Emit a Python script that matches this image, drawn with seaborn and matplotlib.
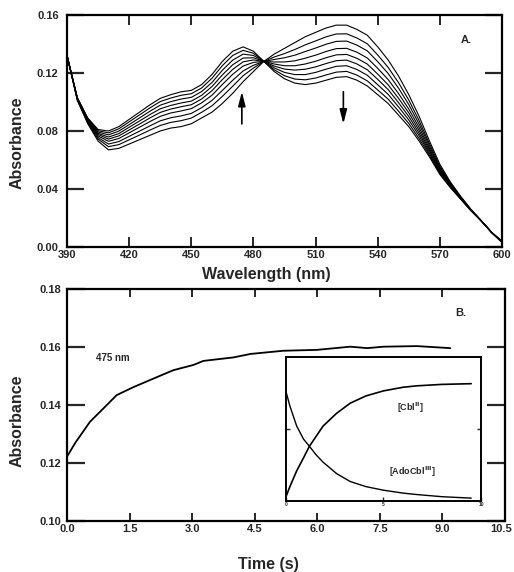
import matplotlib
matplotlib.use("Agg")
import matplotlib.pyplot as plt
import matplotlib.transforms as mtransforms
import pandas as pd
import seaborn as sns

# ---------------- data: panel A (spectra) ----------------
wavelength = list(range(390, 605, 5))
abs_0 = [.132, .101, .085, .073, .067, .068, .071, .074, .077, .080, .082, .083, .085, .089, .093, .099, .106, .114, .121, .128, .133, .137, .141, .145, .148, .151, .153, .153, .150, .146, .138, .129, .118, .105, .090, .073, .057, .045, .035, .026, .018, .010, .003]
abs_1 = [.132, .1013, .0857, .0744, .0692, .0706, .0739, .0772, .0806, .0838, .0859, .0871, .0889, .0929, .0974, .1039, .1109, .1181, .1234, .128, .1310, .1334, .1362, .1394, .1421, .1449, .1469, .1470, .1441, .1401, .1324, .1239, .1134, .1013, .0871, .0711, .0558, .0443, .0347, .0258, .018, .010, .0032]
abs_2 = [.132, .1016, .0862, .0755, .0710, .0727, .0763, .0799, .0835, .0870, .0891, .0904, .0921, .0961, .1011, .1080, .1150, .1214, .1253, .128, .1293, .1305, .1323, .1348, .1372, .1398, .1418, .1420, .1392, .1352, .1278, .1197, .1096, .0982, .0847, .0696, .0548, .0438, .0344, .0257, .018, .010, .0033]
abs_3 = [.132, .1019, .0868, .0766, .0729, .0748, .0787, .0826, .0865, .0901, .0924, .0938, .0954, .0994, .1047, .1121, .1191, .1248, .1273, .128, .1276, .1276, .1284, .1302, .1323, .1348, .1368, .1370, .1343, .1303, .1232, .1155, .1059, .0951, .0824, .0681, .0539, .0432, .0341, .0256, .018, .010, .0035]
abs_4 = [.132, .1021, .0873, .0776, .0744, .0766, .0807, .0848, .0890, .0928, .0951, .0967, .0981, .1021, .1078, .1155, .1225, .1277, .1290, .128, .1262, .1250, .1250, .1262, .1281, .1305, .1325, .1328, .1301, .1261, .1192, .1119, .1026, .0925, .0803, .0667, .0530, .0427, .0339, .0254, .018, .010, .0036]
abs_5 = [.132, .1024, .0877, .0784, .0758, .0782, .0826, .0869, .0913, .0953, .0976, .0993, .1006, .1046, .1107, .1187, .1257, .1303, .1305, .128, .1248, .1227, .1220, .1226, .1242, .1265, .1285, .1289, .1262, .1222, .1156, .1086, .0996, .0900, .0784, .0655, .0522, .0423, .0336, .0253, .018, .010, .0037]
abs_6 = [.132, .1026, .0882, .0793, .0773, .0799, .0844, .0890, .0936, .0978, .1002, .1020, .1032, .1072, .1135, .1219, .1289, .1330, .1321, .128, .1235, .1204, .1189, .1189, .1204, .1226, .1246, .1250, .1224, .1184, .1119, .1053, .0967, .0876, .0766, .0643, .0515, .0418, .0334, .0252, .018, .010, .0038]
abs_7 = [.132, .1028, .0886, .0802, .0787, .0815, .0863, .0911, .0959, .1003, .1027, .1046, .1057, .1097, .1164, .1251, .1321, .1356, .1336, .128, .1222, .1181, .1158, .1153, .1165, .1186, .1206, .1211, .1185, .1145, .1083, .1020, .0937, .0852, .0747, .0631, .0507, .0414, .0332, .0251, .018, .010, .0039]
abs_8 = [.132, .103, .089, .081, .080, .083, .088, .093, .098, .1025, .105, .107, .108, .112, .119, .128, .135, .138, .135, .128, .121, .116, .113, .112, .113, .115, .117, .1175, .115, .111, .105, .099, .091, .083, .073, .062, .050, .041, .033, .025, .018, .010, .004]

wl_ticks = [390, 420, 450, 480, 510, 540, 570, 600]
a_yticks = [0.00, 0.04, 0.08, 0.12, 0.16]

# ---------------- data: panel B (kinetics at 475 nm) ----------------
time_s = [0, 0.2, 0.55, 0.9, 1.19, 1.6, 1.99, 2.55, 3.03, 3.27, 3.99, 4.4, 5.19, 5.99, 6.79, 7.2, 7.59, 8.39, 9.19]
abs_475 = [0.1222, 0.127, 0.1342, 0.1392, 0.1434, 0.1462, 0.1486, 0.152, 0.1538, 0.1552, 0.1564, 0.1576, 0.1587, 0.159, 0.1601, 0.1596, 0.1601, 0.1603, 0.1596]
b_xticks = [0.0, 1.5, 3.0, 4.5, 6.0, 7.5, 9.0, 10.5]
b_yticks = [0.10, 0.12, 0.14, 0.16, 0.18]

# ---------------- data: inset (relative concentrations) ----------------
inset_t = [0, 0.2, 0.55, 0.9, 1.2, 1.55, 1.9, 2.6, 3.3, 4.1, 5.0, 6.0, 6.7, 8.0, 9.5]
inset_cbl = [0.03, 0.10, 0.21, 0.30, 0.38, 0.45, 0.52, 0.61, 0.68, 0.73, 0.765, 0.79, 0.80, 0.81, 0.815]
inset_ado = [0.76, 0.66, 0.52, 0.43, 0.38, 0.32, 0.27, 0.19, 0.135, 0.10, 0.075, 0.055, 0.045, 0.03, 0.02]
inset_xticks = [0, 5, 10]

# ---------------- style ----------------
sns.set_theme(style="ticks")
plt.rcParams["font.family"] = ["Liberation Sans", "DejaVu Sans"]
plt.rcParams["font.weight"] = "bold"
plt.rcParams["axes.labelweight"] = "bold"
plt.rcParams["mathtext.default"] = "bf"

fig = plt.figure(figsize=(5.14, 5.72), dpi=100)
axA = fig.add_axes([0.1304, 0.5682, 0.8463, 0.4056])
axB = fig.add_axes([0.1304, 0.0892, 0.8520, 0.4056])

spectra = [abs_0, abs_1, abs_2, abs_3, abs_4, abs_5, abs_6, abs_7, abs_8]
df = pd.concat(
    [pd.DataFrame({"wavelength": wavelength, "absorbance": s, "spectrum": i})
     for i, s in enumerate(spectra)],
    ignore_index=True,
)
sns.lineplot(data=df, x="wavelength", y="absorbance", units="spectrum",
             estimator=None, color="black", lw=0.8, ax=axA)

axA.annotate("", xy=(474.4, 0.109), xytext=(474.4, 0.083),
             arrowprops=dict(arrowstyle="-|>,head_length=0.7,head_width=0.18",
                             color="black", lw=1.2))
axA.annotate("", xy=(523.4, 0.083), xytext=(523.4, 0.109),
             arrowprops=dict(arrowstyle="-|>,head_length=0.7,head_width=0.18",
                             color="black", lw=1.2))
axA.text(580, 0.143, "A.", fontsize=8, fontweight="bold", ha="left", va="center")

axA.set_xlim(390, 600)
axA.set_ylim(0, 0.16)
axA.set_xticks(wl_ticks)
axA.set_xticklabels([str(v) for v in wl_ticks])
axA.set_yticks(a_yticks)
axA.set_yticklabels([f"{v:.2f}" for v in a_yticks])
axA.set_xlabel("Wavelength (nm)", fontsize=11.5, fontweight="bold")
axA.set_ylabel("Absorbance", fontsize=11.5, fontweight="bold")
axA.xaxis.set_label_coords(0.457, -0.085)
axA.yaxis.set_label_coords(-0.097, 0.45)
axA.tick_params(axis="x", direction="in", length=7, width=1.4, top=True,
                labelsize=8, pad=2)
axA.tick_params(axis="y", direction="in", length=12, width=1.6, right=True,
                labelsize=8, pad=6)

# panel B
sns.lineplot(x=time_s, y=abs_475, color="black", lw=1.3, ax=axB)
axB.text(0.7, 0.1562, "475 nm", fontsize=7, fontweight="bold", ha="left", va="center")
axB.text(9.3, 0.1717, "B.", fontsize=8, fontweight="bold", ha="left", va="center")
axB.set_xlim(0, 10.5)
axB.set_ylim(0.10, 0.18)
axB.set_xticks(b_xticks)
axB.set_xticklabels([f"{v:.1f}" for v in b_xticks])
axB.set_yticks(b_yticks)
axB.set_yticklabels([f"{v:.2f}" for v in b_yticks])
axB.set_xlabel("Time (s)", fontsize=11.5, fontweight="bold")
axB.set_ylabel("Absorbance", fontsize=11.5, fontweight="bold")
axB.xaxis.set_label_coords(0.461, -0.155)
axB.yaxis.set_label_coords(-0.097, 0.43)
axB.tick_params(axis="x", direction="in", length=6, width=1.4, top=True,
                labelsize=8, pad=2)
axB.tick_params(axis="y", direction="in", length=13, width=1.6, right=True,
                labelsize=8, pad=4)
# keep the last x tick label inside the figure
last_lbl = axB.get_xticklabels()[-1]
last_lbl.set_transform(last_lbl.get_transform() +
                       mtransforms.ScaledTranslation(-3 / 72, 0, fig.dpi_scale_trans))

for ax in (axA, axB):
    for sp in ax.spines.values():
        sp.set_visible(True)
        sp.set_linewidth(1.6)
        sp.set_color("black")

# inset
axI = fig.add_axes([0.5564, 0.1241, 0.3794, 0.2517])
axI.set_facecolor("white")
sns.lineplot(x=inset_t, y=inset_cbl, color="black", lw=1.2, ax=axI)
sns.lineplot(x=inset_t, y=inset_ado, color="black", lw=1.0, ax=axI)
axI.text(6.4, 0.65, r"[Cbl$^{\mathbf{II}}$]", fontsize=6.5, fontweight="bold",
         ha="center", va="center")
axI.text(6.5, 0.20, r"[AdoCbl$^{\mathbf{III}}$]", fontsize=6.5, fontweight="bold",
         ha="center", va="center")
axI.set_xlim(0, 10)
axI.set_ylim(0, 1.0)
axI.set_xticks(inset_xticks)
axI.set_xticklabels([str(v) for v in inset_xticks])
axI.set_yticks([0.5])
axI.set_yticklabels([])
axI.tick_params(axis="x", direction="in", length=3, width=1.0, labelsize=3.5, pad=1)
axI.tick_params(axis="y", direction="in", length=3, width=1.0, left=True, right=True)
for sp in axI.spines.values():
    sp.set_visible(True)
    sp.set_linewidth(1.4)
    sp.set_color("black")

fig.savefig("out.png", dpi=100)
